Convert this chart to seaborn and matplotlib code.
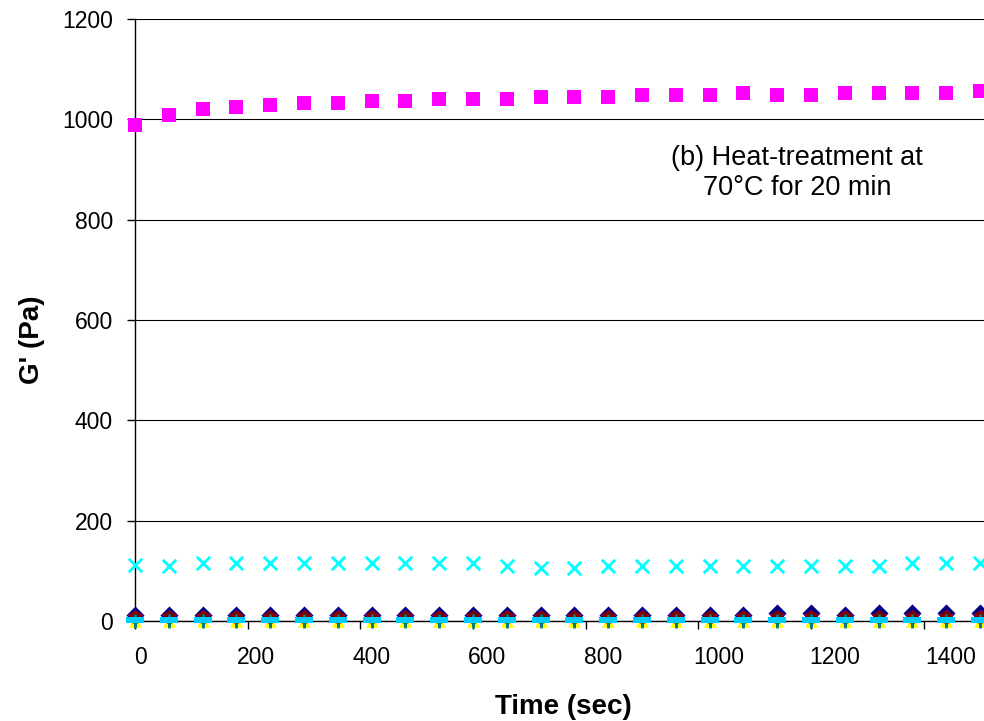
import numpy as np
import pandas as pd
import matplotlib
matplotlib.use("Agg")
import matplotlib.pyplot as plt
import matplotlib.transforms as mtransforms
import seaborn as sns

time_s = list(range(0, 1501, 60))

g_navy = [12, 12, 12, 12, 12, 12, 12, 12, 12, 12, 12, 12, 12, 12, 12, 12, 12, 12, 12,
          15, 15, 12, 15, 15, 15, 15]
g_magenta = [988, 1008, 1020, 1025, 1028, 1032, 1033, 1036, 1036, 1040, 1040, 1040, 1044,
             1045, 1045, 1048, 1048, 1048, 1052, 1048, 1048, 1052, 1052, 1052, 1052, 1056]
g_yellow = [0] * 26
g_cyan = [112, 110, 115, 115, 115, 115, 115, 115, 115, 115, 115, 110, 106, 106, 110, 110,
          110, 110, 110, 110, 110, 110, 110, 115, 115, 115]
g_purple = [5] * 26
g_maroon = [8] * 26
g_teal = [0] * 26
g_sky = [2] * 26

y_ticks = [0, 200, 400, 600, 800, 1000, 1200]
x_ticks = [0, 200, 400, 600, 800, 1000, 1200, 1400]

sns.set_style("white")
plt.rcParams['font.family'] = ['Liberation Sans', 'DejaVu Sans']
plt.rcParams['text.color'] = 'black'
plt.rcParams['axes.labelcolor'] = 'black'
plt.rcParams['xtick.color'] = 'black'
plt.rcParams['ytick.color'] = 'black'

fig = plt.figure(figsize=(9.84, 7.21), dpi=100)
ax = fig.add_axes([0.1372, 0.1387, 0.8628, 0.8349])

dash = [(-1, -0.35), (1, -0.35), (1, 0.35), (-1, 0.35), (-1, -0.35)]

# (values, colour, marker, size, line-type marker?, linewidth)
series = [
    (g_navy, "#000080", "D", 85, False, 0),
    (g_magenta, "#FF00FF", "s", 90, False, 0),
    (g_yellow, "#FFFF00", "^", 85, False, 0),
    (g_cyan, "#00FFFF", "x", 95, True, 2.0),
    (g_purple, "#800080", (6, 2, 0), 100, True, 1.6),
    (g_maroon, "#800000", "o", 85, False, 0),
    (g_teal, "#008080", "+", 110, True, 2.0),
    (g_sky, "#00CCFF", dash, 150, False, 0),
]

for vals, col, mk, size, is_line, lw in series:
    df = pd.DataFrame({"t": time_s, "g": vals})
    kw = dict(data=df, x="t", y="g", marker=mk, s=size, ax=ax, legend=False, zorder=3)
    if is_line:
        kw.update(color=col, linewidth=lw)
    else:
        kw.update(color=col, edgecolor=col, linewidth=0)
    sns.scatterplot(**kw)

for c in ax.collections:
    c.set_clip_on(False)

ax.set_xlim(0, 1507)
ax.set_ylim(0, 1200)
ax.set_yticks(y_ticks)
ax.set_xticks(x_ticks)
ax.set_yticklabels([str(v) for v in y_ticks], fontsize=16.5)
ax.set_xticklabels([str(v) for v in x_ticks], fontsize=16.5)
ax.yaxis.grid(True, color="#000000", linewidth=0.8)
ax.set_axisbelow(True)

for s in ["top", "right"]:
    ax.spines[s].set_visible(False)
ax.spines["left"].set_color("#000000")
ax.spines["bottom"].set_color("#000000")
ax.spines["left"].set_linewidth(1.0)
ax.spines["bottom"].set_linewidth(1.0)
ax.tick_params(axis="y", direction="out", length=6, width=1, color="#000000",
               left=True, pad=10)
ax.tick_params(axis="x", direction="out", length=6, width=1, color="#000000",
               bottom=True, pad=12)

# reference x labels are spread slightly wider than their tick marks
for k, lab in enumerate(ax.get_xticklabels()):
    dx = (5 + 3.1 * k) / 100.0
    lab.set_transform(lab.get_transform() +
                      mtransforms.ScaledTranslation(dx, 0, fig.dpi_scale_trans))

ax.set_xlabel("Time (sec)", fontsize=20, fontweight="bold", labelpad=18)
ax.xaxis.label.set_x(0.504)
ax.set_ylabel("G' (Pa)", fontsize=20, fontweight="bold")
ax.yaxis.set_label_coords(-0.106, 0.467)

ax.text(1175, 894, "(b) Heat-treatment at\n70°C for 20 min", ha="center", va="center",
        fontsize=19.5, linespacing=1.2)

fig.savefig("out.png", dpi=100)
